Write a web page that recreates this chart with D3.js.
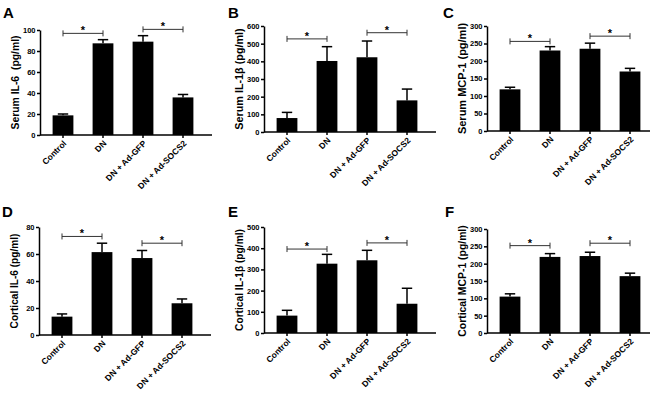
<!DOCTYPE html>
<html lang="en">
  <head>
    <meta charset="UTF-8" />
    <title>Cytokines</title>
    <script src="https://cdn.jsdelivr.net/npm/d3@7/dist/d3.min.js"></script>
    <style>
      body { margin: 0; background: #fff; }
      text { font-family: "Liberation Sans", Arial, sans-serif; font-weight: bold; }
    </style>
  </head>
  <body>
    <div id="wrapper"></div>
    <script>
      const categories = ['Control', 'DN', 'DN + Ad-GFP', 'DN + Ad-SOCS2']

      const serumIL6 = [18.7, 87.3, 88.9, 35.8]
      const serumIL6Err = [1.3, 3.5, 5.7, 2.8]
      const serumIL1b = [79, 402, 423, 179]
      const serumIL1bErr = [32, 81, 92, 64]
      const serumMCP1 = [119, 230, 235, 170]
      const serumMCP1Err = [6, 11, 16, 9]
      const corticalIL6 = [13.6, 61.4, 57, 23.5]
      const corticalIL6Err = [2, 6.6, 5.6, 3.2]
      const corticalIL1b = [82, 327, 343, 138]
      const corticalIL1bErr = [25, 44, 47, 73]
      const corticalMCP1 = [105, 219.5, 222, 164]
      const corticalMCP1Err = [8, 9.5, 11, 8.6]

      // significance brackets: [from, to, height]
      const brackets = {
        A: [[0, 1, 96.8], [2, 3, 100.6]],
        B: [[0, 1, 527], [2, 3, 562]],
        C: [[0, 1, 256], [2, 3, 271]],
        D: [[0, 1, 73], [2, 3, 68]],
        E: [[0, 1, 396], [2, 3, 425]],
        F: [[0, 1, 252], [2, 3, 259]]
      }

      const panels = [
        { id: 'A', title: 'Serum IL-6  (pg/ml)', values: serumIL6, err: serumIL6Err, max: 100, step: 20,
          x0: 40, top: 30, bottom: 135, lx: 3, ly: 17.5, fs: 10.4 },
        { id: 'B', title: 'Serum IL-1β (pg/ml)', values: serumIL1b, err: serumIL1bErr, max: 600, step: 100,
          x0: 264, top: 26, bottom: 132, lx: 228, ly: 18, fs: 10.8 },
        { id: 'C', title: 'Serum MCP-1 (pg/ml)', values: serumMCP1, err: serumMCP1Err, max: 300, step: 50,
          x0: 487, top: 26, bottom: 131, lx: 443, ly: 18, fs: 11 },
        { id: 'D', title: 'Cortical IL-6 (pg/ml)', values: corticalIL6, err: corticalIL6Err, max: 80, step: 20,
          x0: 39, top: 227, bottom: 335, lx: 2, ly: 217, fs: 10.1 },
        { id: 'E', title: 'Cortical IL-1β (pg/ml)', values: corticalIL1b, err: corticalIL1bErr, max: 500, step: 100,
          x0: 264, top: 227, bottom: 333, lx: 228, ly: 217, fs: 10.2 },
        { id: 'F', title: 'Cortical MCP-1 (pg/ml)', values: corticalMCP1, err: corticalMCP1Err, max: 300, step: 50,
          x0: 487, top: 229, bottom: 333, lx: 445, ly: 217, fs: 10.4 }
      ]

      const svg = d3.select('#wrapper').append('svg')
        .attr('width', 650)
        .attr('height', 399)

      panels.forEach(p => drawPanel(svg, p))

      function drawPanel(svg, p) {
        const g = svg.append('g')
        const x = d3.scaleBand()
          .domain(categories)
          .range([p.x0 + 3, p.x0 + 163])
          .paddingInner(0.48)
          .paddingOuter(0.24)
        const y = d3.scaleLinear()
          .domain([0, p.max])
          .range([p.bottom, p.top])

        // bars
        g.selectAll('rect.bar')
          .data(p.values)
          .join('rect')
          .attr('x', (d, i) => x(categories[i]))
          .attr('width', x.bandwidth())
          .attr('y', d => y(d))
          .attr('height', d => y(0) - y(d))
          .attr('fill', '#000')

        // error bars (upper only)
        const cx = i => x(categories[i]) + x.bandwidth() / 2
        const capW = x.bandwidth() / 4
        p.values.forEach((d, i) => {
          g.append('line')
            .attr('x1', cx(i)).attr('x2', cx(i))
            .attr('y1', y(d)).attr('y2', y(d + p.err[i]))
            .attr('stroke', '#000').attr('stroke-width', 1.5)
          g.append('line')
            .attr('x1', cx(i) - capW).attr('x2', cx(i) + capW)
            .attr('y1', y(d + p.err[i])).attr('y2', y(d + p.err[i]))
            .attr('stroke', '#000').attr('stroke-width', 1.5)
        })

        // y axis
        const yAxis = g.append('g')
          .attr('transform', `translate(${p.x0},0)`)
          .call(d3.axisLeft(y).tickValues(d3.range(0, p.max + 1, p.step)).tickSize(3).tickSizeOuter(0).tickPadding(1.5))
        yAxis.select('.domain').attr('stroke-width', 1.5)
        yAxis.selectAll('.tick line').attr('stroke-width', 1.5)
        yAxis.selectAll('text').attr('font-size', 7.5).attr('fill', '#000')
          .style('font-family', '"Liberation Sans", Arial, sans-serif').style('font-weight', 'bold')

        // x axis
        const xAxis = g.append('g')
          .attr('transform', `translate(0,${p.bottom})`)
          .call(d3.axisBottom(x).tickSize(3).tickSizeOuter(0).tickFormat(''))
        xAxis.select('.domain').remove()
        xAxis.selectAll('.tick line').attr('stroke-width', 1.5)
        g.append('line')
          .attr('x1', p.x0).attr('x2', p.x0 + 172)
          .attr('y1', p.bottom).attr('y2', p.bottom)
          .attr('stroke', '#000').attr('stroke-width', 1.5)

        g.selectAll('text.cat')
          .data(categories)
          .join('text')
          .attr('class', 'cat')
          .attr('transform', d => `translate(${x(d) + x.bandwidth() / 2 + 4},${p.bottom + 9}) rotate(-45)`)
          .attr('text-anchor', 'end')
          .attr('font-size', 8.5)
          .text(d => d)

        // y title
        g.append('text')
          .attr('transform', `translate(${p.x0 - 21},${(p.top + p.bottom) / 2}) rotate(-90)`)
          .attr('text-anchor', 'middle')
          .attr('font-size', p.fs)
          .style('white-space', 'pre')
          .text(p.title)

        // panel letter
        g.append('text')
          .attr('x', p.lx).attr('y', p.ly)
          .attr('font-size', 15)
          .text(p.id)

        // significance brackets
        brackets[p.id].forEach(([a, b, h]) => {
          const x1 = cx(a), x2 = cx(b), yy = y(h)
          const bg = g.append('g').attr('stroke', '#333').attr('stroke-width', 1)
          bg.append('line').attr('x1', x1).attr('x2', x2).attr('y1', yy).attr('y2', yy)
          bg.append('line').attr('x1', x1).attr('x2', x1).attr('y1', yy - 3).attr('y2', yy + 3)
          bg.append('line').attr('x1', x2).attr('x2', x2).attr('y1', yy - 3).attr('y2', yy + 3)
          g.append('text')
            .attr('x', (x1 + x2) / 2).attr('y', yy + 1)
            .attr('text-anchor', 'middle')
            .attr('font-size', 11)
            .text('*')
        })
      }
    </script>
  </body>
</html>
